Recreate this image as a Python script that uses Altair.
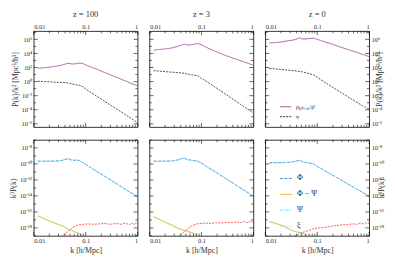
import altair as alt
import pandas as pd

# ---------------- data ----------------
redshift_titles = ["z = 100", "z = 3", "z = 0"]

k_grid = [0.012, 0.016, 0.021, 0.028, 0.035, 0.042, 0.046, 0.052, 0.058, 0.066, 0.075, 0.085,
          0.1, 0.13, 0.17, 0.22, 0.28, 0.36, 0.45, 0.55, 0.65, 0.75, 0.85, 0.93, 1.0]

# top row: log10 of P/k^2
rho_z100 = [1.90, 1.97, 2.07, 2.20, 2.35, 2.52, 2.62, 2.52, 2.50, 2.55, 2.63, 2.60,
            2.39, 2.04, 1.71, 1.35, 1.06, 0.71, 0.45, 0.15, -0.02, -0.27, -0.38, -0.55, -0.62]
v_z100 = [0.05, 0.00, -0.05, -0.10, -0.12, -0.15, -0.18, -0.30, -0.38, -0.45, -0.52, -0.65,
          -1.06, -1.60, -2.16, -2.69, -3.19, -3.71, -4.17, -4.58, -4.93, -5.23, -5.49, -5.67, -5.82]
rho_z3 = [4.48, 4.57, 4.66, 4.80, 5.00, 5.20, 5.32, 5.22, 5.20, 5.25, 5.33, 5.40,
          5.23, 4.80, 4.42, 4.06, 3.76, 3.47, 3.22, 3.00, 2.82, 2.65, 2.51, 2.40, 2.33]
v_z3 = [1.55, 1.48, 1.40, 1.33, 1.27, 1.22, 1.18, 1.10, 1.02, 0.95, 0.90, 0.83,
        0.45, -0.05, -0.62, -1.17, -1.71, -2.25, -2.74, -3.17, -3.54, -3.85, -4.12, -4.32, -4.48]
rho_z0 = [5.48, 5.55, 5.65, 5.80, 5.92, 6.08, 6.25, 6.05, 6.05, 6.10, 6.15, 6.17,
          6.00, 5.72, 5.44, 5.16, 4.90, 4.64, 4.40, 4.19, 4.01, 3.85, 3.72, 3.62, 3.55]
v_z0 = [1.86, 1.80, 1.72, 1.63, 1.55, 1.47, 1.43, 1.38, 1.30, 1.18, 1.06, 0.95,
        0.60, 0.05, -0.50, -1.02, -1.50, -2.00, -2.45, -2.85, -3.17, -3.45, -3.66, -3.80, -3.89]

# bottom row: log10 of k^3 P(k)
phi_z100 = [-9.66, -9.66, -9.66, -9.64, -9.56, -9.40, -9.36, -9.50, -9.54, -9.54, -9.56, -9.78,
            -10.07, -10.53, -11.00, -11.46, -11.88, -12.32, -12.72, -13.07, -13.37, -13.62, -13.84, -14.00, -14.11]
phi_z3 = [-9.66, -9.66, -9.65, -9.62, -9.50, -9.33, -9.26, -9.45, -9.50, -9.55, -9.60, -9.66,
          -9.91, -10.38, -10.85, -11.31, -11.74, -12.19, -12.60, -12.96, -13.26, -13.52, -13.74, -13.91, -14.03]
phi_z0 = [-9.86, -9.85, -9.84, -9.80, -9.72, -9.60, -9.54, -9.75, -9.80, -9.85, -9.92, -9.99,
          -10.32, -10.74, -11.17, -11.59, -11.98, -12.39, -12.75, -13.07, -13.34, -13.57, -13.78, -13.92, -14.03]
psi_z100 = phi_z100
psi_z3 = phi_z3
psi_z0 = phi_z0

k_diff_z100 = [0.012, 0.016, 0.021, 0.028, 0.035, 0.042, 0.052, 0.062, 0.075, 0.09]
diff_z100 = [-16.5, -16.85, -17.2, -17.5, -17.75, -18.0, -18.3, -18.5, -18.7, -19.1]
k_diff_z3 = [0.012, 0.016, 0.022, 0.028, 0.034, 0.042, 0.052, 0.065, 0.08, 0.09]
diff_z3 = [-16.6, -17.0, -17.4, -17.7, -18.0, -18.2, -18.4, -18.6, -18.8, -19.1]
k_diff_z0 = [0.012, 0.016, 0.021, 0.026, 0.032, 0.04, 0.049, 0.056, 0.062]
diff_z0 = [-17.2, -17.45, -17.7, -18.0, -18.3, -18.5, -18.6, -18.75, -19.1]
xi_z100 = diff_z100
xi_z3 = diff_z3
xi_z0 = diff_z0

k_red_z100 = [0.033, 0.04, 0.047, 0.055, 0.065, 0.075, 0.09, 0.11, 0.14, 0.18, 0.23, 0.3,
              0.38, 0.48, 0.58, 0.68, 0.78, 0.86, 0.93, 1.0]
red_z100 = [-19.1, -18.75, -18.4, -18.0, -17.75, -17.6, -17.55, -17.5, -17.55, -17.5, -17.45, -17.55,
            -17.45, -17.55, -17.4, -17.6, -17.4, -17.6, -17.35, -17.55]
k_red_z3 = [0.036, 0.044, 0.052, 0.06, 0.07, 0.081, 0.1, 0.12, 0.15, 0.19, 0.24, 0.3,
            0.38, 0.48, 0.58, 0.68, 0.78, 0.86, 0.93, 1.0]
red_z3 = [-19.1, -18.6, -18.2, -17.9, -17.65, -17.5, -17.45, -17.4, -17.45, -17.35, -17.4, -17.3,
          -17.35, -17.25, -17.35, -17.2, -17.35, -17.15, -17.3, -17.2]
k_red_z0 = [0.036, 0.045, 0.056, 0.07, 0.085, 0.11, 0.15, 0.2, 0.25, 0.3, 0.38, 0.48,
            0.58, 0.68, 0.78, 0.86, 0.93, 1.0]
red_z0 = [-19.0, -18.75, -18.5, -18.3, -18.1, -18.0, -17.9, -17.75, -17.7, -17.6, -17.6, -17.5,
          -17.55, -17.4, -17.5, -17.35, -17.45, -17.35]

x_major = [0.01, 0.1, 1.0]
x_minor = [0.02, 0.03, 0.04, 0.05, 0.06, 0.07, 0.08, 0.09,
           0.2, 0.3, 0.4, 0.5, 0.6, 0.7, 0.8, 0.9]
top_major_exp = [-6, -4, -2, 0, 2, 4, 6]
top_minor_exp = [-5, -3, -1, 1, 3, 5, 7]
bot_major_exp = [-18, -16, -14, -12, -10, -8]
bot_minor_exp = [-19, -17, -15, -13, -11, -9, -7]

top_names = ["ρₚₕᵧₛ/ρ̄", "v"]
bot_names = ["Φ", "Φ − Ψ", "Ψ", "ξ"]

# ---------------- styling ----------------
FONT = "Liberation Serif"
TXT = "#333333"
W, H = 105, 97
PURPLE = "#9a3b8e"
BLACK = "#222222"
BLUE = "#3a7fe0"
CYAN = "#5cd3e8"
ORANGE = "#f0a818"
GREEN = "#8fd080"
RED = "#ff2b2b"

SUP = str.maketrans("0123456789-", "⁰¹²³⁴⁵⁶⁷⁸⁹⁻")


def label_expr(exps):
    expr = "''"
    for e in exps:
        expr = f"(round(log(datum.value)/LN10) == {e}) ? '10{str(e).translate(SUP)}' : ({expr})"
    return expr


def tick_layers(xs, ys, xaxis, yaxis, ymaj, ymin):
    layers = []
    dxM = pd.DataFrame({"k": x_major})
    dxm = pd.DataFrame({"k": x_minor})
    dyM = pd.DataFrame({"val": [10.0 ** e for e in ymaj]})
    dym = pd.DataFrame({"val": [10.0 ** e for e in ymin]})
    for d, L in ((dxM, 4), (dxm, 2.3)):
        for y0, y1 in ((0, L), (H, H - L)):
            layers.append(alt.Chart(d).mark_rule(color="black", strokeWidth=0.6).encode(
                x=alt.X("k:Q", scale=xs, axis=xaxis), y=alt.value(y0), y2=alt.value(y1)))
    for d, L in ((dyM, 4), (dym, 2.3)):
        for x0, x1 in ((0, L), (W, W - L)):
            layers.append(alt.Chart(d).mark_rule(color="black", strokeWidth=0.6).encode(
                y=alt.Y("val:Q", scale=ys, axis=yaxis), x=alt.value(x0), x2=alt.value(x1)))
    return layers


def panel(row, col):
    xs = alt.Scale(type="log", domain=[0.01, 1.0], nice=False)
    if row == 0:
        ys = alt.Scale(type="log", domain=[3.5e-7, 1.5e7], nice=False)
        ymaj, ymin = top_major_exp, top_minor_exp
        ytitle = "P(k)/k² [Mpc³/h³]"
    else:
        ys = alt.Scale(type="log", domain=[1e-19, 1e-7], nice=False)
        ymaj, ymin = bot_major_exp, bot_minor_exp
        ytitle = "k³P(k)"

    if row == 0:
        xaxis = alt.Axis(orient="top", values=x_major, format="~g", title=None,
                         ticks=False, domain=False, grid=False, labelPadding=2)
    else:
        xaxis = alt.Axis(orient="bottom", values=x_major, format="~g", title="k [h/Mpc]",
                         ticks=False, domain=False, grid=False, labelPadding=2, titlePadding=2)
    if col == 0:
        yaxis = alt.Axis(orient="left", values=[10.0 ** e for e in ymaj], labelExpr=label_expr(ymaj),
                         title=ytitle, ticks=False, domain=False, grid=False,
                         labelPadding=2, titlePadding=2)
    elif col == 2:
        yaxis = alt.Axis(orient="right", values=[10.0 ** e for e in ymaj], labelExpr=label_expr(ymaj),
                         title=ytitle, titleAngle=270, ticks=False, domain=False, grid=False,
                         labelPadding=2, titlePadding=2)
    else:
        yaxis = None

    rows = []
    if row == 0:
        rho = [rho_z100, rho_z3, rho_z0][col]
        v = [v_z100, v_z3, v_z0][col]
        for k, a, b in zip(k_grid, rho, v):
            rows.append({"k": k, "val": 10.0 ** a, "series": top_names[0]})
            rows.append({"k": k, "val": 10.0 ** b, "series": top_names[1]})
        dom, rng = top_names, [PURPLE, BLACK]
        dashes = [[1, 0], [2, 1.2]]
        leg = None
        if col == 2:
            leg = alt.Legend(orient="none", legendX=14, legendY=70, title=None,
                             symbolType="stroke", symbolSize=130, symbolStrokeWidth=0.9,
                             labelFont=FONT, labelFontSize=7, rowPadding=0, labelOffset=4,
                             labelColor=TXT)
    else:
        phi = [phi_z100, phi_z3, phi_z0][col]
        psi = [psi_z100, psi_z3, psi_z0][col]
        kd = [k_diff_z100, k_diff_z3, k_diff_z0][col]
        dd = [diff_z100, diff_z3, diff_z0][col]
        xi = [xi_z100, xi_z3, xi_z0][col]
        for k, a in zip(k_grid, phi):
            rows.append({"k": k, "val": 10.0 ** a, "series": bot_names[0]})
        for k, a in zip(kd, dd):
            rows.append({"k": k, "val": 10.0 ** a, "series": bot_names[1]})
        for k, a in zip(k_grid, psi):
            rows.append({"k": k, "val": 10.0 ** a, "series": bot_names[2]})
        for k, a in zip(kd, xi):
            rows.append({"k": k, "val": 10.0 ** a, "series": bot_names[3]})
        dom, rng = bot_names, [BLUE, ORANGE, CYAN, GREEN]
        dashes = [[3, 1.5], [1, 0], [3, 1, 1, 1], [1, 1.2]]
        leg = None
        if col == 2:
            leg = alt.Legend(orient="none", legendX=14, legendY=32, title=None,
                             symbolType="stroke", symbolSize=150, symbolStrokeWidth=0.9,
                             labelFont=FONT, labelFontSize=8, rowPadding=5, labelOffset=4,
                             labelColor=TXT)
    df = pd.DataFrame(rows)

    main = alt.Chart(df).mark_line(strokeWidth=0.8, clip=True).encode(
        x=alt.X("k:Q", scale=xs, axis=xaxis),
        y=alt.Y("val:Q", scale=ys, axis=yaxis),
        color=alt.Color("series:N", scale=alt.Scale(domain=dom, range=rng), legend=leg),
        strokeDash=alt.StrokeDash("series:N", scale=alt.Scale(domain=dom, range=dashes), legend=leg),
    )
    layers = [main]
    if row == 1:
        kr = [k_red_z100, k_red_z3, k_red_z0][col]
        vr = [red_z100, red_z3, red_z0][col]
        dred = pd.DataFrame({"k": kr, "val": [10.0 ** a for a in vr]})
        layers.append(alt.Chart(dred).mark_line(color=RED, strokeWidth=0.8, strokeDash=[2, 1.2],
                                                clip=True).encode(
            x=alt.X("k:Q", scale=xs, axis=xaxis), y=alt.Y("val:Q", scale=ys, axis=yaxis)))
    layers += tick_layers(xs, ys, xaxis, yaxis, ymaj, ymin)

    ch = alt.layer(*layers).properties(width=W, height=H)
    if row == 0:
        ch = ch.properties(title=alt.TitleParams(redshift_titles[col], font=FONT, fontSize=8.5,
                                                 fontWeight="normal", color=TXT, offset=5))
    return ch.resolve_scale(color="independent", strokeDash="independent")


panels = [panel(r, c) for r in range(2) for c in range(3)]

chart = alt.concat(*panels, columns=3, spacing={"row": 13, "column": 12}).properties(
    bounds="flush", padding={"left": 0, "top": 0, "right": 0, "bottom": 0}
).resolve_scale(color="independent", strokeDash="independent", x="independent", y="independent"
).resolve_legend(color="independent", strokeDash="independent"
).configure_view(stroke="black", strokeWidth=0.8
).configure_axis(labelFont=FONT, titleFont=FONT, labelFontSize=6.5, titleFontSize=8,
                 labelColor=TXT, titleColor=TXT, titleFontWeight="normal"
).configure_title(font=FONT, fontWeight="normal", fontSize=8.5, color=TXT
).configure_legend(labelColor=TXT, labelFont=FONT)

chart.save("out.html", embed_options={"renderer": "svg", "actions": False})
